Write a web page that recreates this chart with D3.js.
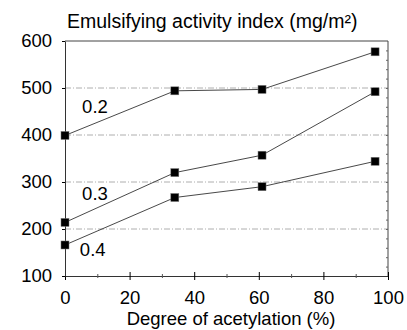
<!DOCTYPE html>
<html>
<head>
<meta charset="utf-8">
<script src="https://cdn.jsdelivr.net/npm/d3@7"></script>
<style>
  body { margin: 0; background: #fff; }
  text { font-family: "Liberation Sans", Arial, sans-serif; fill: #000; }
</style>
</head>
<body>
<svg id="chart" width="407" height="330"></svg>
<script>
// data
const acetylation = [0, 34, 61, 96]
const series02 = [399, 494, 497, 577]
const series03 = [214, 320, 357, 492]
const series04 = [166, 267, 290, 344]
const seriesNames = ['0.2', '0.3', '0.4']
const yTicks = [100, 200, 300, 400, 500, 600]
const xTicks = [0, 20, 40, 60, 80, 100]

const margin = {top: 41, right: 19, bottom: 54, left: 65}
const width = 407 - margin.left - margin.right
const height = 330 - margin.top - margin.bottom

const svg = d3.select('#chart')
const g = svg.append('g')
    .attr('transform', 'translate(' + margin.left + ',' + margin.top + ')')

const x = d3.scaleLinear().domain([0, 100]).range([0, width])
const y = d3.scaleLinear().domain([100, 600]).range([height, 0])

// dashed grid
g.append('g')
    .selectAll('line')
    .data(yTicks.slice(1, -1))
    .join('line')
    .attr('x1', 0)
    .attr('x2', width)
    .attr('y1', d => y(d))
    .attr('y2', d => y(d))
    .attr('stroke', '#999')
    .attr('stroke-width', 0.8)
    .attr('stroke-dasharray', '6,2,1,2')

// frame top and right
g.append('line').attr('x1', 0).attr('x2', width).attr('y1', 0).attr('y2', 0)
    .attr('stroke', '#444').attr('stroke-width', 1)
g.append('line').attr('x1', width).attr('x2', width).attr('y1', 0).attr('y2', height)
    .attr('stroke', '#444').attr('stroke-width', 1)

// right minor ticks
g.append('g')
    .attr('transform', 'translate(' + width + ',0)')
    .call(d3.axisLeft(y).tickValues(d3.range(120, 600, 20)).tickSize(2).tickFormat(''))
    .call(a => a.select('.domain').remove())
    .selectAll('line').attr('stroke', '#666')

// x axis
const xAxis = g.append('g')
    .attr('transform', 'translate(0,' + height + ')')
xAxis.call(d3.axisBottom(x).tickValues(xTicks).tickSize(4).tickSizeOuter(0).tickPadding(11))
xAxis.selectAll('.tick line').attr('y1', -4)
xAxis.selectAll('text').attr('font-size', 18.5)
xAxis.select('.domain').attr('stroke', '#333')
g.append('g')
    .attr('transform', 'translate(0,' + height + ')')
    .call(d3.axisBottom(x).tickValues(d3.range(10, 100, 20)).tickSize(2).tickFormat(''))
    .call(a => a.select('.domain').remove())
    .selectAll('line').attr('y1', -2).attr('stroke', '#555')

// y axis
const yAxis = g.append('g')
yAxis.call(d3.axisLeft(y).tickValues(yTicks).tickSize(3).tickSizeOuter(0).tickPadding(10))
yAxis.selectAll('text').attr('font-size', 18.5)
yAxis.select('.domain').attr('stroke', '#333')

// title and axis label
svg.append('text')
    .attr('x', 67)
    .attr('y', 28)
    .attr('font-size', 19.5)
    .text('Emulsifying activity index (mg/m²)')

svg.append('text')
    .attr('x', 231)
    .attr('y', 325)
    .attr('text-anchor', 'middle')
    .attr('font-size', 18.5)
    .text('Degree of acetylation (%)')

// lines + markers
const allSeries = [series02, series03, series04]
const line = d3.line()
    .x((d, i) => x(acetylation[i]))
    .y(d => y(d))

allSeries.forEach(function (vals) {
    g.append('path')
        .datum(vals)
        .attr('fill', 'none')
        .attr('stroke', '#333')
        .attr('stroke-width', 0.9)
        .attr('d', line)
    g.append('g')
        .selectAll('rect')
        .data(vals)
        .join('rect')
        .attr('x', (d, i) => x(acetylation[i]) - 4)
        .attr('y', d => y(d) - 4)
        .attr('width', 8)
        .attr('height', 8)
        .attr('fill', '#000')
        .attr('stroke', '#777')
        .attr('stroke-width', 0.5)
})

// series labels
const labelPos = [[5.3, 447], [5.3, 262], [4.6, 143]]
g.append('g')
    .selectAll('text')
    .data(seriesNames)
    .join('text')
    .attr('x', (d, i) => x(labelPos[i][0]))
    .attr('y', (d, i) => y(labelPos[i][1]))
    .attr('font-size', 18.5)
    .text(d => d)
</script>
</body>
</html>
